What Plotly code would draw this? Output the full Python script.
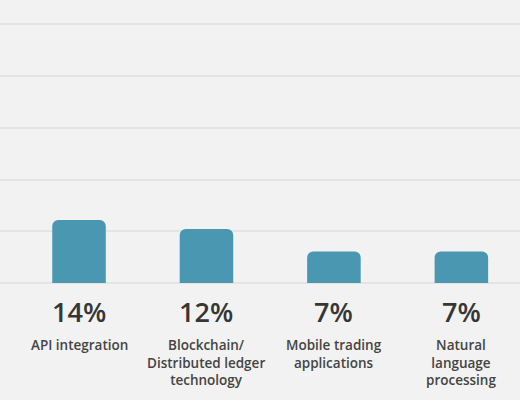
import plotly.graph_objects as go

# data
categories = ["API integration", "Blockchain/<br>Distributed ledger<br>technology",
              "Mobile trading<br>applications", "Natural<br>language<br>processing"]
shares = [14, 12, 7, 7]

bar_color = "#4a97b1"
grid_step = 11.5

fig = go.Figure(go.Bar(
    x=list(range(len(categories))), y=shares,
    width=0.42, marker=dict(color=bar_color, line=dict(width=0)),
    hoverinfo="skip",
))

# percentage labels and category names under the baseline
for i, (cat, v) in enumerate(zip(categories, shares)):
    fig.add_annotation(x=i, y=-6.4, text=f"{v}%", showarrow=False,
                       xanchor="center", yanchor="middle",
                       font=dict(family="Open Sans", size=27, color="#363636",
                                 weight=600))
    fig.add_annotation(x=i, y=-11.4, text=cat, showarrow=False,
                       xanchor="center", yanchor="top", align="center",
                       font=dict(family="Open Sans", size=13.5, color="#444444",
                                 weight=600))

fig.update_layout(
    width=520, height=400,
    margin=dict(l=0, r=0, t=0, b=0),
    paper_bgcolor="#f2f2f2", plot_bgcolor="#f2f2f2",
    barcornerradius=6,
    showlegend=False,
    xaxis=dict(range=[-0.62, 3.46], visible=False, fixedrange=True),
    yaxis=dict(range=[-26, 62.9], tickvals=[grid_step * k for k in range(6)],
               showticklabels=False, showgrid=True, gridcolor="#e4e4e4",
               gridwidth=1.5, zeroline=False, fixedrange=True),
)

# drop the page margin so the figure fills the window
fig.write_html("out.html", config={"displayModeBar": False},
               post_script="document.body.style.margin='0';document.body.style.background='#f2f2f2';")
